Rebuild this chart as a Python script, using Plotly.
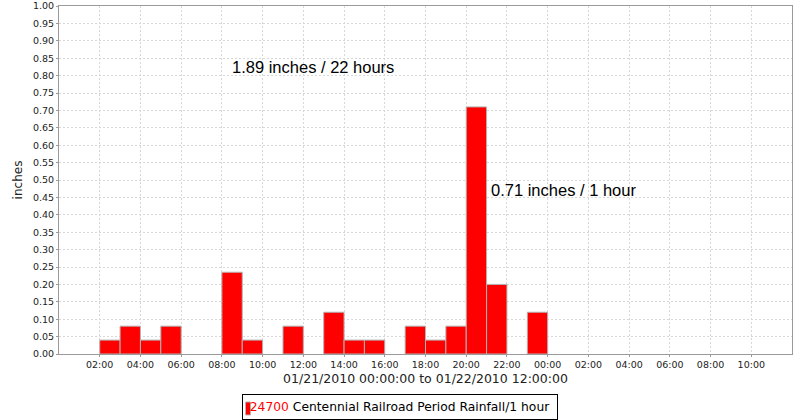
import plotly.graph_objects as go

# Data: hourly rainfall (hour start, inches)
hour_starts = [
    "2010-01-21 02:00", "2010-01-21 03:00", "2010-01-21 04:00", "2010-01-21 05:00",
    "2010-01-21 08:00", "2010-01-21 09:00", "2010-01-21 11:00", "2010-01-21 13:00",
    "2010-01-21 14:00", "2010-01-21 15:00", "2010-01-21 17:00", "2010-01-21 18:00",
    "2010-01-21 19:00", "2010-01-21 20:00", "2010-01-21 21:00", "2010-01-21 23:00",
]
rain_inches = [0.04, 0.08, 0.04, 0.08, 0.235, 0.04, 0.08, 0.12,
               0.04, 0.04, 0.08, 0.04, 0.08, 0.71, 0.20, 0.12]

tick_vals = [
    "2010-01-21 02:00", "2010-01-21 04:00", "2010-01-21 06:00", "2010-01-21 08:00",
    "2010-01-21 10:00", "2010-01-21 12:00", "2010-01-21 14:00", "2010-01-21 16:00",
    "2010-01-21 18:00", "2010-01-21 20:00", "2010-01-21 22:00", "2010-01-22 00:00",
    "2010-01-22 02:00", "2010-01-22 04:00", "2010-01-22 06:00", "2010-01-22 08:00",
    "2010-01-22 10:00",
]
tick_text = [t[-5:] for t in tick_vals]

x_range = ["2010-01-21 00:00", "2010-01-22 12:00"]
x_title = "01/21/2010 00:00:00 to 01/22/2010 12:00:00"
y_title = "inches"
series_id = "24700"
series_label = "Centennial Railroad Period Rainfall/1 hour"
note_total = "1.89 inches / 22 hours"
note_peak = "0.71 inches / 1 hour"

HOUR_MS = 3600000

fig = go.Figure()
fig.add_trace(go.Bar(
    x=hour_starts, y=rain_inches, width=[HOUR_MS] * len(hour_starts), offset=0,
    marker=dict(color="#ff0000", line=dict(color="#b4b4b4", width=1)),
    name=series_id + " " + series_label, showlegend=False,
))

grid_col = "#d8d8d8"
axis_col = "#9a9a9a"
tick_font = dict(family="DejaVu Sans", size=9.5, color="#222222")

fig.update_layout(
    width=800, height=420,
    margin=dict(l=59, r=8, t=6, b=66),
    paper_bgcolor="white", plot_bgcolor="white",
    font=dict(family="DejaVu Sans", size=12, color="#222222"),
    xaxis=dict(
        type="date", range=x_range,
        tickmode="array", tickvals=tick_vals, ticktext=tick_text,
        tickfont=tick_font, automargin=False,
        showgrid=True, gridcolor=grid_col, griddash="2px,2px", gridwidth=1,
        showline=True, linecolor=axis_col, linewidth=1, mirror=True,
        ticks="outside", ticklen=2, tickcolor=axis_col,
        title=dict(text=x_title, font=dict(family="DejaVu Sans", size=12.5, color="#222222"), standoff=4),
        zeroline=False, fixedrange=True,
    ),
    yaxis=dict(
        range=[0, 1], dtick=0.05, tick0=0, tickformat=".2f",
        tickfont=tick_font, automargin=False,
        showgrid=True, gridcolor=grid_col, griddash="2px,2px", gridwidth=1,
        showline=True, linecolor=axis_col, linewidth=1, mirror=True,
        ticks="outside", ticklen=2, tickcolor=axis_col,
        title=dict(text=y_title, font=dict(family="DejaVu Sans", size=12, color="#222222"), standoff=7),
        zeroline=False, fixedrange=True,
    ),
    annotations=[
        dict(x="2010-01-21 08:24", y=0.825, xref="x", yref="y", text=note_total,
             showarrow=False, xanchor="left", yanchor="middle",
             font=dict(family="Liberation Sans", size=16.5, color="black")),
        dict(x="2010-01-21 21:07", y=0.472, xref="x", yref="y", text=note_peak,
             showarrow=False, xanchor="left", yanchor="middle",
             font=dict(family="Liberation Sans", size=16.5, color="black")),
        # legend box
        dict(x=(241.7 - 59) / 733, y=(354 - 394) / 348, xref="paper", yref="paper",
             xanchor="left", yanchor="top", showarrow=False,
             text='<span style="color:#ff0000">' + series_id + '</span> ' + series_label,
             width=306, height=16, align="center", valign="middle",
             bordercolor="black", borderwidth=1, borderpad=4,
             font=dict(family="DejaVu Sans", size=12.3, color="black")),
    ],
    shapes=[
        dict(type="rect", xref="paper", yref="paper", layer="above",
             x0=(245.5 - 59) / 733, x1=(250.5 - 59) / 733,
             y0=(354 - 415) / 348, y1=(354 - 402) / 348,
             fillcolor="#ff0000", line=dict(color="#b4b4b4", width=1)),
    ],
)

fig.write_html(
    "out.html",
    config={"displayModeBar": False, "staticPlot": True},
    post_script="document.body.style.margin='0';document.body.style.padding='0';",
)
